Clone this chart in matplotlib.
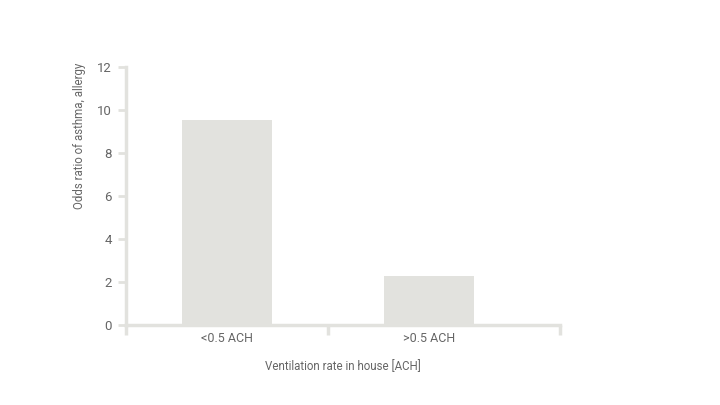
import matplotlib.pyplot as plt
import numpy as np

categories = ['<0.5 ACH', '>0.5 ACH']
odds_ratio = [9.55, 2.3]

plt.rcParams['font.family'] = ['Roboto', 'DejaVu Sans']

fig = plt.figure(figsize=(7.2, 4.05), dpi=100)
ax = fig.add_axes([0.175, 0.1975, 0.603, 0.637])

grey = '#e2e2de'
text_grey = '#666666'

x = np.arange(len(categories))
ax.bar(x, odds_ratio, width=0.446, color=grey, zorder=2)

ax.set_xlim(-0.5, 1.65)
ax.set_ylim(0, 12)
ax.set_yticks(range(0, 13, 2))
ax.set_xticks(x)
ax.set_xticklabels(categories)
ax.set_xticks([-0.5, 0.5, 1.65], minor=True)

for side in ['top', 'right']:
    ax.spines[side].set_visible(False)
for side in ['left', 'bottom']:
    ax.spines[side].set_color(grey)
    ax.spines[side].set_linewidth(2.5)

ax.tick_params(axis='y', colors=grey, labelcolor=text_grey, labelsize=9.5,
               length=6, width=2, pad=4)
ax.tick_params(axis='x', which='major', length=0, labelcolor=text_grey,
               labelsize=9, pad=5)
ax.tick_params(axis='x', which='minor', colors=grey, length=7, width=2.5)

ax.set_xlabel('Ventilation rate in house [ACH]', color=text_grey, fontsize=8.3,
              labelpad=11)

# y label sits at the top of the axis, not centred
fig.text(80 / 720, 1 - 63 / 405, 'Odds ratio of asthma, allergy', rotation=90,
         ha='center', va='top', color=text_grey, fontsize=8.3)

fig.savefig('out.png', dpi=100)
